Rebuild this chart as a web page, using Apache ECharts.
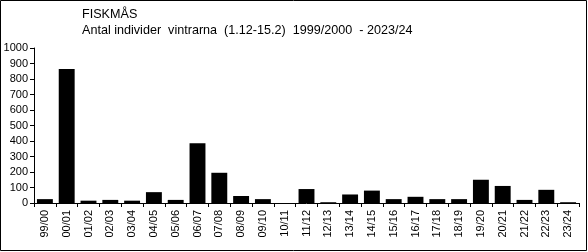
<!DOCTYPE html>
<html>
<head>
<meta charset="utf-8">
<script src="https://cdn.jsdelivr.net/npm/echarts@6/dist/echarts.min.js"></script>
<style>
html,body{margin:0;padding:0;background:#fff;}
#c{width:588px;height:252px;}
</style>
</head>
<body>
<div id="c"></div>
<script>
const categories = ["99/00","00/01","01/02","02/03","03/04","04/05","05/06","06/07","07/08","08/09","09/10","10/11","11/12","12/13","13/14","14/15","15/16","16/17","17/18","18/19","19/20","20/21","21/22","22/23","23/24"];
const counts = [25,865,15,20,15,70,20,385,195,45,25,0,90,5,55,80,25,40,25,25,150,110,20,85,5];
const yTicks = {min:0, max:1000, interval:100};
const titleLine1 = "FISKMÅS";
const titleLine2 = "Antal individer  vintrarna  (1.12-15.2)  1999/2000  - 2023/24";

const chart = echarts.init(document.getElementById('c'), null, {renderer:'canvas'});
const font = 'Arial, "Liberation Sans", sans-serif';
chart.setOption({
  animation:false,
  backgroundColor:'#fff',
  graphic:[{type:'rect', shape:{x:0.5,y:0.5,width:586,height:250}, style:{fill:'none', stroke:'#000', lineWidth:1}, silent:true}],
  title:{
    text:titleLine1 + "\n" + titleLine2,
    left:82, top:7, padding:0,
    textStyle:{fontFamily:font, fontSize:12.6, fontWeight:'normal', color:'#000', lineHeight:16}
  },
  grid:{left:34, right:9, top:48, bottom:49, containLabel:false},
  xAxis:{
    type:'category', data:categories, boundaryGap:true,
    axisLine:{lineStyle:{color:'#000', width:1}},
    axisTick:{show:true, alignWithLabel:false, length:4, lineStyle:{color:'#000'}},
    axisLabel:{rotate:90, fontFamily:font, fontSize:11, color:'#000', margin:7, interval:0}
  },
  yAxis:{
    type:'value', min:yTicks.min, max:yTicks.max, interval:yTicks.interval,
    splitLine:{show:false},
    axisLine:{show:true, lineStyle:{color:'#000', width:1}},
    axisTick:{show:true, length:4, lineStyle:{color:'#000'}},
    axisLabel:{fontFamily:font, fontSize:11, color:'#000', margin:6, formatter:v => String(v)}
  },
  series:[{
    type:'bar', data:counts, barCategoryGap:'27%',
    itemStyle:{color:'#000'}
  }]
});
</script>
</body>
</html>
